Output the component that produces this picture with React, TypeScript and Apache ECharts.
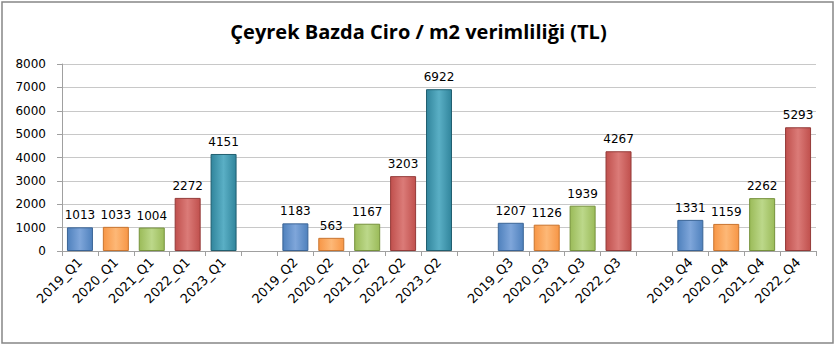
import React, { useEffect, useRef } from "react";
import * as echarts from "echarts";

const categories = [
  "2019_Q1", "2020_Q1", "2021_Q1", "2022_Q1", "2023_Q1", "",
  "2019_Q2", "2020_Q2", "2021_Q2", "2022_Q2", "2023_Q2", " ",
  "2019_Q3", "2020_Q3", "2021_Q3", "2022_Q3", "  ",
  "2019_Q4", "2020_Q4", "2021_Q4", "2022_Q4",
];
const values: (number | null)[] = [
  1013, 1033, 1004, 2272, 4151, null,
  1183, 563, 1167, 3203, 6922, null,
  1207, 1126, 1939, 4267, null,
  1331, 1159, 2262, 5293,
];
const yearColors: Record<string, [string, string, string]> = {
  "2019": ["#4F81BD", "#7FA6DA", "#3A6496"],
  "2020": ["#F79646", "#FDB877", "#C8742F"],
  "2021": ["#9BBB59", "#BCD88A", "#76923C"],
  "2022": ["#C0504D", "#DB7B78", "#943B39"],
  "2023": ["#31859C", "#5AAFC5", "#215F70"],
};

const FONT = "'DejaVu Sans', Verdana, sans-serif";

export default function App() {
  const ref = useRef<HTMLDivElement>(null);
  useEffect(() => {
    document.body.style.margin = "0";
    const chart = echarts.init(ref.current!, null, { renderer: "svg" });
    const data = values.map((v, i) => {
      if (v === null) return { value: null };
      const c = yearColors[categories[i].slice(0, 4)];
      return {
        value: v,
        itemStyle: {
          color: new echarts.graphic.LinearGradient(0, 0, 1, 0, [
            { offset: 0, color: c[0] },
            { offset: 0.5, color: c[1] },
            { offset: 1, color: c[0] },
          ]),
          borderColor: c[2],
          borderWidth: 1,
        },
      };
    });
    chart.setOption({
      animation: false,
      backgroundColor: "#fff",
      title: {
        text: "Çeyrek Bazda Ciro / m2 verimliliği (TL)",
        left: "center",
        top: 16,
        textStyle: { fontFamily: "'Open Sans', sans-serif", fontWeight: "bold", fontSize: 20, color: "#000" },
      },
      graphic: [
        {
          type: "rect",
          shape: { x: 2, y: 2, width: 831, height: 341 },
          style: { fill: "none", stroke: "#868686", lineWidth: 1.5 },
          silent: true,
        },
      ],
      grid: { left: 62, right: 21, top: 64, bottom: 96 },
      xAxis: {
        type: "category",
        data: categories,
        axisLine: { lineStyle: { color: "#A0A0A0" } },
        axisTick: { show: true, length: 5, alignWithLabel: false, lineStyle: { color: "#A0A0A0" } },
        axisLabel: {
          rotate: 45,
          interval: 0,
          fontFamily: FONT,
          fontSize: 13,
          color: "#000",
          margin: 9,
        },
      },
      yAxis: {
        type: "value",
        min: 0,
        max: 8000,
        interval: 1000,
        axisLine: { show: true, lineStyle: { color: "#A0A0A0" } },
        axisTick: { show: true, length: 5, lineStyle: { color: "#A0A0A0" } },
        axisLabel: {
          fontFamily: FONT,
          fontSize: 12,
          color: "#000",
          margin: 16,
          formatter: (v: number) => String(v),
        },
        splitLine: { lineStyle: { color: "#C8C8C8" } },
      },
      series: [
        {
          type: "bar",
          data,
          barWidth: 26,
          label: {
            show: true,
            position: "top",
            distance: 6,
            fontFamily: FONT,
            fontSize: 12,
            color: "#000",
          },
        },
      ],
    });
    return () => chart.dispose();
  }, []);
  return <div ref={ref} style={{ width: 837, height: 347 }} />;
}
